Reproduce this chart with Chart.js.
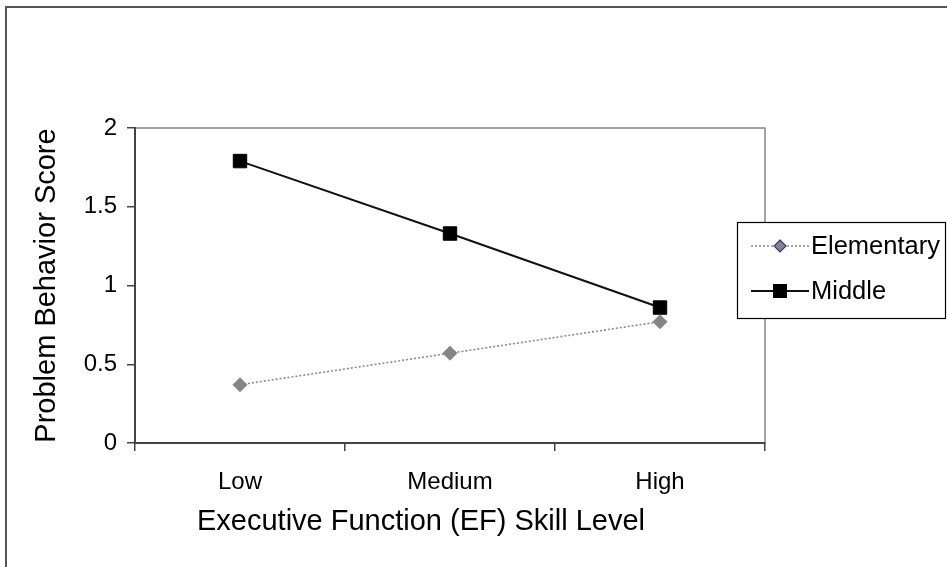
<!DOCTYPE html>
<html>
<head>
<meta charset="utf-8">
<script src="https://cdn.jsdelivr.net/npm/chart.js@4/dist/chart.umd.min.js"></script>
<style>
html,body{margin:0;padding:0;background:#fff;}
#wrap{width:947px;height:567px;position:relative;}
</style>
</head>
<body>
<div id="wrap"><canvas id="c" width="947" height="567"></canvas></div>
<script>
const categories = ['Low', 'Medium', 'High'];
const elementaryValues = [0.37, 0.57, 0.77];
const middleValues = [1.79, 1.33, 0.86];
const yTickValues = [0, 0.5, 1, 1.5, 2];
const seriesNames = ['Elementary', 'Middle'];
const xTitle = 'Executive Function (EF) Skill Level';
const yTitle = 'Problem Behavior Score';

const FONT = '"Liberation Sans", Arial, sans-serif';

const framePlugin = {
  id: 'frame',
  beforeDraw(chart) {
    const ctx = chart.ctx;
    ctx.save();
    ctx.fillStyle = '#fff';
    ctx.fillRect(0, 0, chart.width, chart.height);
    ctx.strokeStyle = '#555';
    ctx.lineWidth = 2;
    ctx.beginPath();
    ctx.moveTo(6, chart.height);
    ctx.lineTo(6, 7);
    ctx.lineTo(chart.width, 7);
    ctx.stroke();
    const a = chart.chartArea;
    ctx.strokeStyle = '#888';
    ctx.lineWidth = 1.5;
    ctx.strokeRect(a.left, a.top, a.right - a.left, a.bottom - a.top);
    ctx.restore();
  },
  afterDraw(chart) {
    // x-axis title, placed slightly left of the plot centre as in the reference
    const ctx = chart.ctx;
    const xs = chart.scales.x;
    ctx.save();
    ctx.fillStyle = '#000';
    ctx.font = '29px ' + FONT;
    ctx.textAlign = 'center';
    ctx.textBaseline = 'middle';
    ctx.fillText(xTitle, (xs.left + xs.right) / 2 - 29, 522);
    ctx.restore();
  }
};

const legendPlugin = {
  id: 'boxLegend',
  afterDraw(chart) {
    const ctx = chart.ctx;
    const ds = chart.data.datasets;
    const bx = 737, by = 222, bw = 208, bh = 96;
    ctx.save();
    ctx.fillStyle = '#fff';
    ctx.fillRect(bx, by, bw, bh);
    ctx.strokeStyle = '#000';
    ctx.lineWidth = 1.2;
    ctx.strokeRect(bx + 0.5, by + 0.5, bw, bh);
    const rows = [246, 291];
    ds.forEach((d, i) => {
      const y = rows[i];
      ctx.save();
      ctx.strokeStyle = d.borderColor;
      ctx.lineWidth = d.borderWidth;
      ctx.setLineDash(d.borderDash || []);
      ctx.beginPath();
      ctx.moveTo(751, y);
      ctx.lineTo(809, y);
      ctx.stroke();
      ctx.restore();
      ctx.fillStyle = d.pointBackgroundColor;
      ctx.strokeStyle = d.legendBorder;
      ctx.lineWidth = 1.2;
      ctx.beginPath();
      if (d.pointStyle === 'rectRot') {
        const r = d.legendRadius;
        ctx.moveTo(780, y - r); ctx.lineTo(780 + r, y); ctx.lineTo(780, y + r); ctx.lineTo(780 - r, y); ctx.closePath();
      } else {
        const s = d.legendRadius * Math.SQRT1_2;
        ctx.rect(780 - s, y - s, 2 * s, 2 * s);
      }
      ctx.fill();
      ctx.stroke();
      ctx.fillStyle = '#000';
      ctx.font = '25.5px ' + FONT;
      ctx.textBaseline = 'middle';
      ctx.textAlign = 'left';
      ctx.fillText(d.label, 811, y + 1);
    });
    ctx.restore();
  }
};

new Chart(document.getElementById('c'), {
  type: 'line',
  data: {
    labels: categories,
    datasets: [
      {
        label: seriesNames[0],
        data: elementaryValues,
        borderColor: '#8a8a8a',
        borderWidth: 1.6,
        borderDash: [2, 2],
        pointStyle: 'rectRot',
        pointRadius: 7,
        pointBackgroundColor: '#858585',
        pointBorderColor: '#858585',
        pointBorderWidth: 1,
        legendRadius: 6,
        legendBorder: '#333399',
        tension: 0
      },
      {
        label: seriesNames[1],
        data: middleValues,
        borderColor: '#111',
        borderWidth: 2,
        pointStyle: 'rect',
        pointRadius: 9.5,
        pointBackgroundColor: '#000',
        pointBorderColor: '#000',
        pointBorderWidth: 1,
        legendRadius: 9,
        legendBorder: '#000',
        tension: 0
      }
    ]
  },
  options: {
    responsive: false,
    animation: false,
    devicePixelRatio: 1,
    layout: { padding: { top: 128, right: 182, left: 0, bottom: 0 } },
    plugins: {
      legend: { display: false },
      tooltip: { enabled: false }
    },
    scales: {
      x: {
        type: 'category',
        offset: true,
        grid: { offset: true, drawOnChartArea: false, drawTicks: true, tickLength: 8, color: '#444', lineWidth: 1.5 },
        border: { color: '#444', width: 2 },
        ticks: { font: { family: FONT, size: 24 }, color: '#000', padding: 17, maxRotation: 0 },
        title: { display: false, text: xTitle },
        afterFit(s) { s.height = 124; }
      },
      y: {
        min: 0,
        max: 2,
        afterBuildTicks(s) { s.ticks = yTickValues.map(v => ({ value: v })); },
        grid: { drawOnChartArea: false, drawTicks: true, tickLength: 8, color: '#444', lineWidth: 1.5 },
        border: { color: '#444', width: 2 },
        ticks: { font: { family: FONT, size: 24 }, color: '#000', padding: 10, callback: (v) => String(v) },
        title: { display: true, text: yTitle, font: { family: FONT, size: 29 }, color: '#000', padding: { top: 30, bottom: 0 } },
        afterFit(s) { s.width = 135; }
      }
    }
  },
  plugins: [framePlugin, legendPlugin]
});
</script>
</body>
</html>
